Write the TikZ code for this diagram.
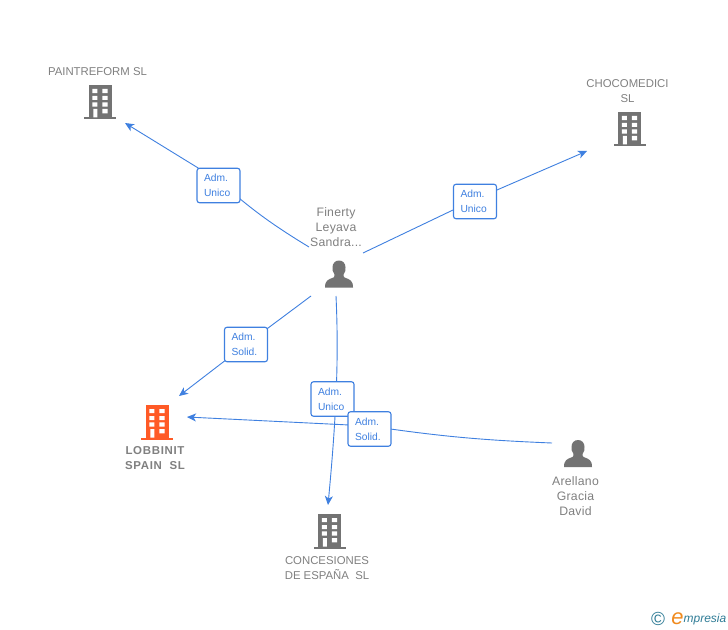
\documentclass[tikz,border=0pt]{standalone}
\usepackage{fontspec}
\setmainfont{Liberation Sans}
\newfontfamily\capfont[LetterSpace=2]{Liberation Sans}
\newfontfamily\hotfont[LetterSpace=6]{Liberation Sans}
\usetikzlibrary{arrows.meta,backgrounds}
\definecolor{iconGray}{HTML}{737373}
\definecolor{txtGray}{HTML}{808080}
\definecolor{linkBlue}{HTML}{3F80E0}
\definecolor{hot}{HTML}{FF5A26}
\definecolor{logoTeal}{HTML}{2F7C96}
\definecolor{logoOrange}{HTML}{F08A1E}
\tikzset{
  x=1bp,y=-1bp,
  iconbox/.style={minimum width=32bp,minimum height=34bp,inner sep=0pt},
  personbox/.style={minimum width=28bp,minimum height=28bp,inner sep=0pt},
  personcap/.style={font=\capfont\fontsize{12.3}{15}\selectfont,text=txtGray,align=center,inner sep=0pt},
  cocap/.style={font=\fontsize{11.4}{15}\selectfont,text=txtGray,align=center,inner sep=0pt},
  hotcap/.style={font=\hotfont\fontsize{11.5}{15}\selectfont\bfseries,text=txtGray,align=center,inner sep=0pt},
  tagbox/.style={draw=linkBlue,fill=white,line width=1.1bp,rounded corners=2.5bp,minimum width=43bp,minimum height=34.5bp,
     inner sep=0pt,text width=29bp,align=left,text=linkBlue,font=\fontsize{10.3}{15}\selectfont},
  linkline/.style={draw=linkBlue,line width=.9bp},
  linktip/.style={-{Stealth[length=9bp,width=8bp,inset=2.5bp]}},
  pics/building/.style={code={
    \fill[#1] (-11.5,-17) rectangle (11.5,15.5);
    \fill[#1] (-16,15.5) rectangle (16,17.5);
    \fill[white] (-7.7,-13) rectangle (-2.7,-8.8) (2.3,-13) rectangle (7.7,-8.8)
      (-7.7,-6) rectangle (-2.7,-2) (2.3,-6) rectangle (7.7,-2)
      (-7.7,0.3) rectangle (-2.7,4.7) (2.3,0.3) rectangle (7.7,4.7)
      (-6.7,7) rectangle (-2.7,15.5) (2.3,7) rectangle (7.7,11.3);
  }},
  pics/person/.style={code={
    \fill[iconGray] (-14,13) .. controls (-14,6) and (-11,5) .. (-5.5,3)
      .. controls (-4.5,2.5) and (-4.5,1) .. (-4.5,0)
      .. controls (-6.5,-2) and (-6.5,-5) .. (-6.5,-7)
      .. controls (-6.5,-11) and (-4,-14) .. (0,-14)
      .. controls (4,-14) and (6.5,-11) .. (6.5,-7)
      .. controls (6.5,-5) and (6.5,-2) .. (4.5,0)
      .. controls (4.5,1) and (4.5,2.5) .. (5.5,3)
      .. controls (11,5) and (14,6) .. (14,13) -- cycle;
  }}
}
\begin{document}
\begin{tikzpicture}
\useasboundingbox (0,0) rectangle (728,630);

% icons
\node[iconbox] (paint) at (100,102) {};
\node[iconbox] (choco) at (629.5,129) {};
\node[iconbox] (lobb) at (157,422) {};
\node[iconbox] (conc) at (329.5,531) {};
\node[personbox] (fin) at (339,274.5) {};
\node[personbox] (are) at (578,454) {};
\pic at (paint) {building=iconGray};
\pic at (choco) {building=iconGray};
\pic at (lobb) {building=hot};
\pic at (conc) {building=iconGray};
\pic at (fin) {person};
\pic at (are) {person};

% captions
\node[cocap] (tpaint) at (97.5,71.5) {PAINTREFORM SL};
\node[cocap] (tchoco) at (627.5,91) {CHOCOMEDICI\\SL};
\node[hotcap] (tlobb) at (155,458.5) {LOBBINIT\\SPAIN\ \ SL};
\node[cocap] (tconc) at (327,568) {CONCESIONES\\DE ESPAÑA\ \ SL};
\node[personcap] (tfin) at (336,227) {Finerty\\Leyava\\Sandra...};
\node[personcap] (tare) at (575.5,496) {Arellano\\Gracia\\David};

% tags
\node[tagbox] (t1) at (218.5,185.5) {Adm.\\Unico};
\node[tagbox] (t2) at (475,201.5) {Adm.\\Unico};
\node[tagbox] (t3) at (246,344.5) {Adm.\\Solid.};
\node[tagbox] (t4) at (332.5,399) {Adm.\\Unico};
\node[tagbox] (t5) at (369.5,429) {Adm.\\Solid.};

% free ends of the connectors, and where they pass behind the tags
\coordinate (s1) at (309,247);
\coordinate (m1) at (218.5,180.5);
\coordinate (e1) at (125,123);
\coordinate (s2) at (363,253);
\coordinate (m2) at (475,199.5);
\coordinate (e2) at (587,151);
\coordinate (s3) at (311,296);
\coordinate (e3) at (179,396);
\coordinate (s4) at (336,296);
\coordinate (e4) at (328,505);
\coordinate (s5) at (552,443);
\coordinate (m5) at (369.5,426);
\coordinate (e5) at (187,417);

\begin{scope}[on background layer]
\fill[white] (0,0) rectangle (728,630);
\draw[linkline] (s1) to[bend left=5] (m1);
\draw[linkline,linktip] (m1) -- (e1);
\draw[linkline] (s2) -- (m2);
\draw[linkline,linktip] (m2) -- (e2);
\draw[linkline] (s3) -- (t3.center);
\draw[linkline,linktip] (t3.center) -- (e3);
\draw[linkline,linktip] (s4) .. controls (339,360) and (336,420) .. (e4);
\draw[linkline] (s5) to[bend left=3] (m5);
\draw[linkline,linktip] (m5) -- (e5);
\end{scope}

% logo
\node[inner sep=0pt,text=logoTeal,font=\fontsize{19}{19}\selectfont] (lc) at (658,618.5) {©};
\node[inner sep=0pt,text=logoOrange,font=\fontsize{22}{22}\selectfont\itshape] (le) at (677.5,618.5) {e};
\node[inner sep=0pt,text=logoTeal,font=\fontsize{12}{12}\selectfont\itshape,anchor=west] (lm) at (683.5,619) {mpresia};
\end{tikzpicture}
\end{document}
